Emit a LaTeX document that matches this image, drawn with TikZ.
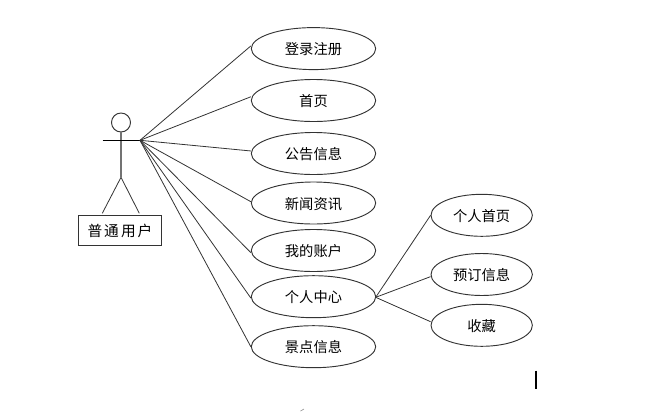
\documentclass[tikz,border=0pt]{standalone}
\usepackage{fontspec}
\newfontfamily\cjk{Noto Sans CJK SC}
\usetikzlibrary{shapes.geometric}
\tikzset{
 uc/.style={draw=black!80,ellipse,line width=0.7pt,minimum width=93.3pt,minimum height=31.5pt,inner sep=0pt,text height=10.6pt,text depth=1.3pt,font=\cjk\fontsize{10.7pt}{12pt}\selectfont},
 ucs/.style={uc,minimum width=76pt},
 ln/.style={line width=0.6pt,draw=black!80},
 body/.style={line width=1.1pt,draw=black!55},
}
\begin{document}
\begin{tikzpicture}[x=0.75pt,y=-0.75pt]
\useasboundingbox (0,0) rectangle (647,412);
\node[uc] (a) at (313.5,48.6) {登录注册};
\node[uc] (b) at (313.5,100.5) {首页};
\node[uc] (c) at (313.5,153.5) {公告信息};
\node[uc] (d) at (313.5,203) {新闻资讯};
\node[uc] (e) at (313.5,250.5) {我的账户};
\node[uc] (f) at (313.5,296.7) {个人中心};
\node[uc] (g) at (313.5,346.7) {景点信息};
\node[ucs] (h) at (481.7,215.3) {个人首页};
\node[ucs] (i) at (481.7,274.5) {预订信息};
\node[ucs] (j) at (481.7,325.3) {收藏};
\node[draw=black!80,circle,line width=0.7pt,minimum size=14.25pt,inner sep=0pt] (head) at (121,122.5) {};
\coordinate (hand) at (140,140.3);
\coordinate (lh) at (102.5,140.3);
\coordinate (hip) at (121,177.3);
\coordinate (fl) at (102.3,213.3);
\coordinate (fr) at (139.3,213.3);
\node[draw=black!80,line width=0.8pt,minimum width=62.5pt,minimum height=22.2pt,inner sep=0pt,font=\cjk\fontsize{11pt}{13pt}\selectfont] (actor) at (120,230.5) {普\kern1.3pt通\kern1.8pt用\kern1.3pt户};
\draw[body] (head) -- (hip);
\draw[line width=0.7pt] (lh) -- (hand);
\draw[ln] (hip) -- (fl) (hip) -- (fr);
\draw[ln] (hand) -- ([yshift=2pt]a.west);
\draw[ln] (hand) -- ([yshift=2.8pt]b.west);
\draw[ln] (hand) -- ([yshift=1.9pt]c.west);
\draw[ln] (hand) -- ([yshift=1pt]d.west);
\draw[ln] (hand) -- ([yshift=-1.6pt]e.west);
\draw[ln] (hand) -- ([yshift=-1pt]f.west);
\draw[ln] (hand) -- (g.west);
\coordinate (src) at (375.7,297.3);
\draw[ln] (src) -- (h.west);
\draw[ln] (src) -- ([yshift=-1.6pt]i.west);
\draw[ln] (src) -- ([yshift=2.7pt]j.west);
\coordinate (cu1) at (536,370.7);\coordinate (cu2) at (536,389.3);
\draw[line width=1.5pt] (cu1) -- (cu2);
\coordinate (sp1) at (300.5,411);\coordinate (sp2) at (304,409);
\draw[line width=0.5pt,draw=black!40] (sp1) -- (sp2);
\end{tikzpicture}
\end{document}
